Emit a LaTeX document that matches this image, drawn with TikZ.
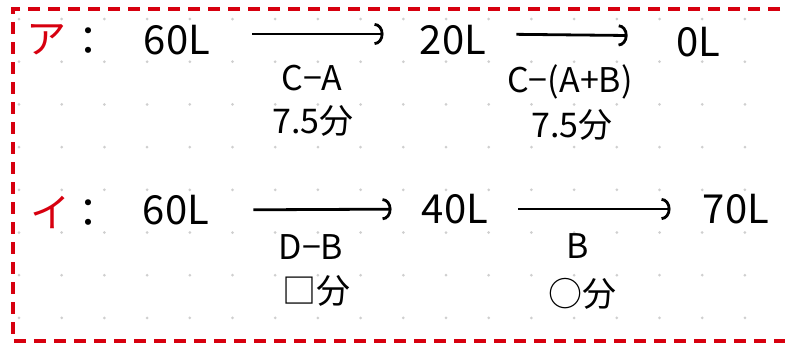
\documentclass[tikz,border=0pt]{standalone}
\usepackage{fontspec}
\setmainfont{Noto Sans CJK JP}
\definecolor{markred}{HTML}{D7000F}
\definecolor{dotgray}{HTML}{CFCFCF}
\usetikzlibrary{arrows.meta, positioning}

\begin{document}
\begin{tikzpicture}[x=0.5pt, y=-0.5pt, >={Arc Barb[length=4.5pt, width=11pt]},
  vol/.style={font=\fontsize{20}{24}\selectfont, inner sep=0pt},
  kana/.style={font=\fontsize{20}{24}\selectfont, text=markred, inner sep=0pt},
  rate/.style={font=\fontsize{17}{20}\selectfont, inner sep=0pt},
  flow/.style={->, line width=1.4pt}]
  \useasboundingbox (0,0) rectangle (785,344);
  \clip (0,0) rectangle (785,344);

  % dotted paper
  \foreach \i in {0,...,17}
    \foreach \j in {0,...,7}
      \fill[dotgray] (19+42.7*\i, 19+42.7*\j) circle (0.75pt);
  % frame, right side runs off the page
  \draw[markred, line width=1.6pt, dash pattern=on 6pt off 4pt]
    (800,9) -- (13,9) -- (13,341) -- (800,341);

  % row ア
  \node[kana] (tagA) at (46,40) {ア};
  \node[vol] (colA) at (88,42) {：};
  \node[vol] (a60) at (177,40) {60L};
  \node[vol] (a20) at (453,40) {20L};
  \node[vol] (a0) at (698,42) {0L};
  \draw[flow, shorten <=21pt, shorten >=18pt] ([yshift=3pt]a60.east) -- ([yshift=3pt]a20.west);
  \draw[flow, shorten <=15pt, shorten >=24pt] ([yshift=3pt]a20.east) -- ([yshift=3pt]a0.west);
  \node[rate] (opA1) at (312,78) {C−A};
  \node[rate] (tA1) at (313,121) {7.5分};
  \node[rate] (opA2) at (570,82) {C−(A+B)};
  \node[rate] (tA2) at (572,125) {7.5分};

  % row イ
  \node[kana] (tagB) at (50,212) {イ};
  \node[vol] (colB) at (88,214) {：};
  \node[vol] (b60) at (176,210) {60L};
  \node[vol] (b40) at (455,209) {40L};
  \node[vol] (b70) at (736,209) {70L};
  \draw[flow, shorten <=22pt, shorten >=15pt] (b60.east) -- (b40.west);
  \draw[flow, shorten <=15pt, shorten >=16pt] (b40.east) -- (b70.west);
  \node[rate] (opB1) at (311,247) {D−B};
  \node[rate] (tB1) at (316,291) {□分};
  \node[rate] (opB2) at (578,246) {B};
  \node[rate] (tB2) at (582,294) {○分};
\end{tikzpicture}
\end{document}
